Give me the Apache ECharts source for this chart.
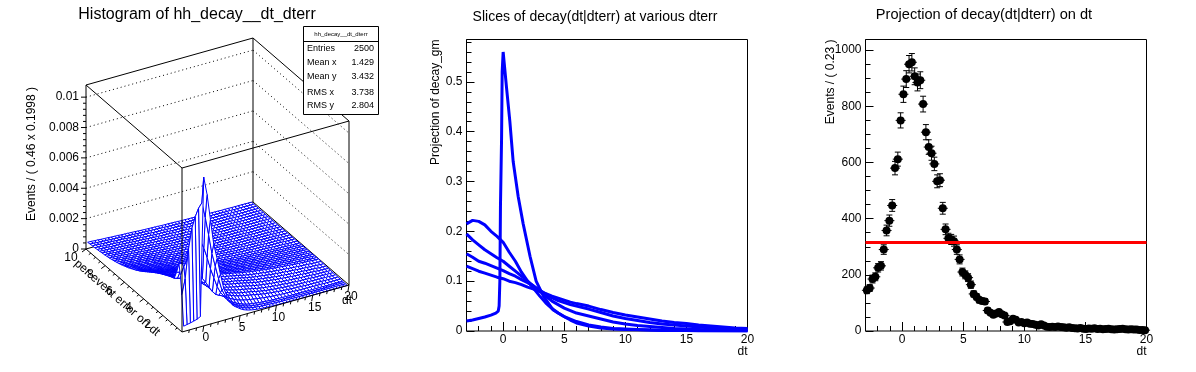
<!DOCTYPE html>
<html>
<head>
<meta charset="utf-8">
<title>decay</title>
<script src="https://cdn.jsdelivr.net/npm/echarts@6/dist/echarts.min.js"></script>
<style>
html, body { margin: 0; padding: 0; background: #fff; }
#chart { width: 1196px; height: 372px; }
</style>
</head>
<body>
<div id="chart"></div>
<script>
const FONT = '"Liberation Sans", Arial, sans-serif';

// ---- left pad: surface, z in units of 1e-5, one row per dterr value
const dtBins = [-2.77,-2.31,-1.85,-1.39,-0.93,-0.47,-0.01,0.45,0.91,1.37,1.83,2.29,2.75,3.21,3.67,4.13,4.59,5.05,5.51,5.97,6.43,6.89,7.35,7.81,8.27,8.73,9.19,9.65,10.11,10.57,11.03,11.49,11.95,12.41,12.87,13.33,13.79,14.25,14.71,15.17,15.63,16.09,16.55,17.01,17.47,17.93,18.39,18.85,19.31,19.77];
const errBins = [0.01,0.2,0.35,0.5,0.75,1,1.25,1.5,1.75,2,2.25,2.5,2.75,3,3.2,3.4,3.6,3.8,4,4.2,4.4,4.6,4.8,5,5.25,5.5,5.75,6,6.25,6.5,6.75,7,7.25,7.5,7.75,8,8.25,8.5,8.75,9,9.25,9.5,9.75,10];
const surfaceRows = [
[35,40,44,50,56,68,980,860,690,520,420,310,210,150,105,75,60,44,32,24,18,14,11,9,7,6,5,4,3,3,2,2,2,2,1,1,1,1,1,1,1,1,1,1,1,1,0,0,0,0],
[230,330,520,650,720,770,800,700,580,450,360,270,190,145,105,78,62,48,36,28,21,17,14,11,9,8,7,6,5,4,4,3,3,3,2,2,2,2,2,1,1,1,1,1,1,1,1,1,0,0],
[350,400,440,480,510,530,540,490,420,340,275,210,165,135,105,80,64,52,40,32,25,20,17,14,12,10,9,8,6,5,5,4,4,3,3,3,2,2,2,2,2,1,1,1,1,1,1,1,1,0],
[420,415,405,392,375,350,320,280,248,210,175,150,138,128,108,85,68,56,45,36,29,24,21,18,15,13,11,9,8,7,6,5,5,4,4,3,3,3,2,2,2,2,2,2,1,1,1,1,1,1],
[350,345,338,325,310,295,275,255,233,205,178,156,143,130,112,92,78,67,57,49,43,38,34,31,27,24,21,18,16,14,12,11,10,9,8,7,6,5,5,4,4,3,3,3,2,2,2,1,1,1],
[296,292,285,275,262,250,240,235,218,200,180,163,148,133,115,100,88,78,70,63,57,52,48,44,40,35,31,27,24,21,19,17,15,13,12,10,9,8,7,6,5,5,4,3,3,2,2,2,1,1],
[290,282,272,262,250,240,232,226,212,195,178,162,147,133,116,102,92,82,75,68,62,58,54,50,46,41,36,32,28,26,23,21,19,17,15,13,12,11,10,8,8,7,6,5,4,4,3,3,2,2],
[283,272,262,252,242,232,226,219,206,191,175,160,146,133,118,105,95,87,80,74,68,64,60,55,51,46,41,37,33,30,28,25,23,21,19,17,15,14,12,11,10,9,8,7,6,5,4,3,3,2],
[274,264,254,244,235,226,219,211,200,186,172,159,146,133,120,108,98,91,85,79,74,70,66,61,56,51,46,42,38,35,32,29,27,25,22,20,18,17,15,13,12,11,10,8,7,6,5,4,3,3],
[265,256,245,235,226,219,212,203,194,182,170,158,145,133,121,110,102,96,90,85,80,76,72,67,62,57,52,47,43,40,37,34,31,28,26,24,22,20,18,16,15,13,12,10,9,8,6,5,4,3],
[255,247,236,226,218,211,205,196,188,177,166,155,143,133,122,112,105,99,93,87,82,78,74,69,65,59,54,50,46,43,40,37,34,31,28,26,24,22,20,18,17,15,14,12,11,9,8,6,5,4],
[246,238,227,218,211,204,198,189,182,172,162,152,142,133,124,115,108,102,96,90,85,81,77,72,68,62,57,53,49,46,43,40,37,34,31,29,27,25,23,21,19,17,16,14,13,11,10,8,7,6],
[235,228,218,210,203,196,191,182,176,167,158,149,141,133,126,118,111,105,99,93,88,84,79,74,71,65,60,56,52,49,46,43,40,37,34,32,29,27,25,23,21,19,18,16,15,13,12,10,9,8],
[224,219,210,203,196,189,184,175,170,163,154,147,140,133,128,121,114,108,102,96,91,87,82,77,74,68,63,60,56,52,49,46,43,40,37,35,32,30,28,26,24,22,20,18,17,15,14,12,11,10],
[215,210,201,195,188,181,176,168,163,156,148,141,134,127,123,116,109,103,98,92,87,83,78,74,71,65,60,57,54,50,47,44,41,38,35,33,30,29,27,25,23,21,19,17,16,14,13,11,10,9],
[206,201,193,187,180,174,169,161,156,150,142,135,129,122,118,111,105,99,94,88,84,80,75,71,68,63,58,55,52,48,45,42,40,37,34,32,29,28,26,24,22,20,18,17,16,14,13,11,10,9],
[196,191,183,177,171,165,161,153,148,142,135,128,122,116,112,105,100,94,89,84,80,76,71,67,64,59,55,52,49,45,43,40,38,35,32,30,28,26,24,23,21,19,17,16,15,13,12,10,9,8],
[186,182,174,168,163,157,153,145,141,135,128,122,116,110,106,100,95,90,85,80,76,72,68,64,61,56,52,50,46,43,41,38,36,33,31,29,27,25,23,22,20,18,17,15,14,12,12,10,9,8],
[176,172,164,159,154,148,144,137,133,128,121,115,110,104,100,95,89,85,80,75,71,68,64,60,58,53,49,47,43,40,38,36,34,31,29,27,25,23,22,20,19,17,16,14,13,11,11,9,8,7],
[166,162,155,150,145,140,136,130,126,121,114,109,104,98,95,90,84,80,75,71,67,64,61,57,55,50,47,44,41,38,36,34,32,30,27,26,24,22,21,19,18,16,15,13,13,11,10,9,8,7],
[157,153,147,142,137,132,128,123,119,114,108,103,98,93,89,85,79,75,71,67,63,60,57,54,52,47,44,42,39,36,34,32,30,28,25,24,22,21,19,18,17,15,14,12,12,10,9,8,7,7],
[148,145,139,134,129,125,121,116,112,108,102,97,92,88,84,80,75,71,67,63,60,57,54,51,49,45,42,40,37,34,32,30,28,26,24,23,21,20,18,17,16,15,13,12,11,10,9,8,7,7],
[140,137,131,127,122,118,115,109,106,102,96,92,87,83,80,75,71,67,63,60,57,54,51,48,46,42,39,37,35,32,30,28,26,25,23,22,20,19,17,16,15,14,12,11,10,9,8,7,6,6],
[132,129,124,120,116,112,109,103,100,96,91,87,83,78,76,71,67,64,60,57,54,51,48,45,44,40,37,35,33,31,29,27,25,24,22,21,19,18,17,15,14,13,12,11,10,9,8,7,6,6],
[123,120,115,112,108,104,101,96,93,89,85,81,77,73,70,66,62,59,56,53,50,47,45,42,41,37,34,33,31,29,27,25,23,22,20,19,17,16,15,14,13,12,11,10,9,8,7,6,6,5],
[114,112,107,104,100,96,94,89,87,83,79,75,71,68,65,62,58,55,52,49,46,44,42,39,38,35,32,31,29,27,25,23,22,20,19,18,16,15,14,13,12,11,10,9,9,8,7,6,6,5],
[106,104,99,96,93,89,87,83,81,77,73,70,66,63,60,57,54,51,48,45,43,41,39,36,35,32,30,28,27,25,23,21,20,19,17,16,15,14,13,12,11,10,9,8,8,7,6,5,5,4],
[99,96,92,89,86,83,81,77,75,72,68,65,62,59,56,53,50,48,45,42,40,38,36,34,33,30,28,26,25,23,22,20,19,18,16,15,14,13,12,11,11,10,9,8,7,7,6,5,5,4],
[92,89,86,83,80,77,75,72,70,67,63,60,57,55,52,49,46,44,42,39,37,35,33,31,30,28,26,24,23,21,20,18,17,16,15,14,13,12,11,10,10,9,8,7,6,6,5,5,4,4],
[85,83,80,77,74,72,70,67,65,62,59,56,53,51,49,46,43,41,39,36,35,33,31,29,28,26,24,23,21,20,19,17,16,15,14,13,12,11,11,10,9,8,8,7,6,6,5,5,4,4],
[79,77,74,72,69,67,65,62,60,58,55,52,49,47,45,43,40,38,36,34,32,31,29,27,26,24,22,21,19,18,17,16,15,14,13,12,11,10,10,9,8,7,7,6,6,5,5,4,4,3],
[74,72,69,67,65,62,61,58,56,54,51,49,46,44,42,40,38,36,34,32,30,29,27,25,24,22,21,20,18,17,16,15,14,13,12,12,11,10,9,9,8,7,7,6,6,5,5,4,4,3],
[69,68,65,63,61,58,57,54,52,50,48,46,43,41,39,37,35,33,32,30,28,27,25,23,22,21,19,18,17,16,15,14,13,12,11,11,10,9,8,8,7,6,6,5,5,4,4,3,3,3],
[65,64,61,59,57,55,53,51,49,47,45,43,41,39,37,35,33,31,30,28,26,25,24,22,21,20,18,17,16,15,14,13,12,12,11,10,9,9,8,8,7,6,6,5,5,4,4,3,3,3],
[61,60,58,56,54,52,50,48,46,44,42,40,38,37,35,33,31,29,28,26,25,24,22,21,20,19,17,16,15,14,13,12,11,11,10,9,8,8,7,7,6,6,5,5,4,4,4,3,3,3],
[58,57,55,53,51,49,48,46,44,42,40,38,36,35,33,31,30,28,27,25,24,23,21,20,19,18,16,16,15,14,13,12,11,10,10,9,8,8,7,7,6,6,5,5,4,4,4,3,3,3],
[55,54,52,50,48,46,45,43,42,40,38,36,34,33,31,29,28,26,25,24,22,21,20,19,18,17,15,15,14,13,12,11,10,9,9,8,8,7,7,6,6,5,5,4,4,4,3,3,3,2],
[53,51,49,48,46,44,43,41,40,38,36,35,33,31,30,28,27,25,24,23,21,20,19,18,17,16,15,14,13,12,12,11,10,9,9,8,8,7,7,6,6,5,5,4,4,4,3,3,3,2],
[50,49,47,46,44,42,41,39,38,36,34,33,31,30,29,27,26,24,23,22,20,19,18,17,16,15,14,13,12,11,11,10,9,9,8,8,7,6,6,6,5,5,4,4,4,3,3,3,2,2],
[48,47,45,44,42,41,40,38,37,35,33,32,30,29,28,26,25,23,22,21,20,19,18,17,16,15,14,13,12,11,11,10,9,9,8,8,7,6,6,6,5,5,4,4,4,3,3,3,2,2],
[46,45,43,42,40,39,38,36,35,34,32,30,29,28,27,25,24,22,21,20,19,18,17,16,15,14,13,12,11,10,10,9,9,8,7,7,6,6,6,5,5,4,4,4,3,3,3,2,2,2],
[45,44,42,41,39,38,37,35,34,33,31,29,28,27,26,24,23,22,20,19,18,17,16,15,15,14,13,12,11,10,10,9,9,8,7,7,6,6,6,5,5,4,4,4,3,3,3,2,2,2],
[43,42,40,39,37,36,35,33,32,31,29,28,27,26,25,23,22,21,20,19,18,17,16,15,14,13,12,11,10,10,9,9,8,8,7,7,6,6,5,5,4,4,4,3,3,3,3,2,2,2],
[41,41,39,38,36,35,34,32,31,30,28,27,26,25,24,22,21,20,19,18,17,16,15,14,14,13,12,11,10,10,9,9,8,7,7,6,6,6,5,5,4,4,4,3,3,3,3,2,2,2]
];
const zTicks = [0, 0.002, 0.004, 0.006, 0.008, 0.01];
const zTickLabels = ['0', '0.002', '0.004', '0.006', '0.008', '0.01'];
const dtTicks = [0, 5, 10, 15, 20];
const dtMinorTicks = [-2,-1,0,1,2,3,4,5,6,7,8,9,10,11,12,13,14,15,16,17,18,19,20];
const errTicks = [2, 4, 6, 8, 10];
const statNames = ['Entries', 'Mean x', 'Mean y', 'RMS x', 'RMS y'];
const statValues = ['2500', '1.429', '3.432', '3.738', '2.804'];

// ---- middle pad: slices
const sharpDt = [-3,-2.5,-2,-1.5,-1,-0.6,-0.4,-0.33,-0.27,-0.22,-0.13,-0.08,0,0.14,0.27,0.55,0.82,1.23,1.64,2.2,2.7,3.3,4.1,4.9,5.5,6,7,8,9,10,12,14,16,20];
const sharpVal = [0.02,0.022,0.025,0.028,0.032,0.036,0.04,0.05,0.1,0.25,0.386,0.52,0.56,0.557,0.49,0.42,0.34,0.27,0.215,0.15,0.1,0.07,0.042,0.03,0.022,0.016,0.01,0.006,0.004,0.003,0.002,0.001,0.001,0];
const sliceDt = [-3,-2.5,-2,-1.5,-1,-0.5,0,0.5,1,1.5,2,2.5,3,3.5,4,4.5,5,5.5,6,7,8,9,10,11,12,13,14,15,16,17,18,19,20];
const sliceB = [0.215,0.222,0.22,0.213,0.2,0.19,0.178,0.158,0.14,0.118,0.1,0.085,0.07,0.056,0.045,0.036,0.029,0.024,0.019,0.012,0.008,0.005,0.004,0.003,0.002,0.001,0.001,0.001,0,0,0,0,0];
const sliceC = [0.195,0.183,0.173,0.163,0.155,0.147,0.14,0.13,0.12,0.11,0.1,0.09,0.08,0.07,0.06,0.053,0.046,0.041,0.036,0.03,0.024,0.018,0.014,0.011,0.009,0.007,0.005,0.004,0.003,0.002,0.002,0.001,0.001];
const sliceD = [0.155,0.148,0.14,0.136,0.131,0.126,0.121,0.115,0.11,0.103,0.097,0.09,0.082,0.074,0.067,0.061,0.057,0.053,0.05,0.044,0.037,0.03,0.025,0.021,0.017,0.014,0.012,0.01,0.008,0.006,0.005,0.004,0.003];
const sliceE = [0.13,0.125,0.12,0.116,0.112,0.108,0.105,0.1,0.097,0.093,0.088,0.084,0.079,0.075,0.07,0.066,0.062,0.058,0.055,0.05,0.043,0.037,0.032,0.028,0.024,0.02,0.017,0.015,0.012,0.01,0.008,0.006,0.005];

// ---- right pad: projection
const projDt = [-2.885,-2.655,-2.425,-2.195,-1.965,-1.735,-1.505,-1.275,-1.045,-0.815,-0.585,-0.355,-0.125,0.105,0.335,0.565,0.795,1.025,1.255,1.485,1.715,1.945,2.175,2.405,2.635,2.865,3.095,3.325,3.555,3.785,4.015,4.245,4.475,4.705,4.935,5.165,5.395,5.625,5.855,6.085,6.315,6.545,6.775,7.005,7.235,7.465,7.695,7.925,8.155,8.385,8.615,8.845,9.075,9.305,9.535,9.765,9.995,10.225,10.455,10.685,10.915,11.145,11.375,11.605,11.835,12.065,12.295,12.525,12.755,12.985,13.215,13.445,13.675,13.905,14.135,14.365,14.595,14.825,15.055,15.285,15.515,15.745,15.975,16.205,16.435,16.665,16.895,17.125,17.355,17.585,17.815,18.045,18.275,18.505,18.735,18.965,19.195,19.425,19.655,19.885];
const projEvents = [145,153,185,193,225,232,290,358,393,447,580,612,750,843,897,950,957,907,885,893,808,708,655,633,595,533,537,437,362,330,326,320,290,255,210,200,190,165,132,122,110,107,105,73,65,58,62,68,60,55,32,35,44,40,30,32,28,30,26,25,22,20,24,20,15,14,15,14,16,14,13,12,13,11,10,9,11,8,7,9,8,10,7,8,6,7,8,6,5,6,7,8,6,5,6,5,5,4,4,3];
const projErr = [12,12,14,14,15,15,17,19,20,21,24,25,27,29,30,31,31,30,30,30,28,27,26,25,24,23,23,21,19,18,18,18,17,16,14,14,14,13,11,11,10,10,10,9,8,8,8,8,8,7,6,6,7,6,5,6,5,5,5,5,5,4,5,4,4,4,4,4,4,4,4,3,4,3,3,3,3,3,3,3,3,3,3,3,2,3,3,2,2,2,3,3,2,2,2,2,2,2,2,2];
const fitDt = [-3, 20];
const fitVal = [315, 315];

// fixed view of the 3D box, in page pixels of the left grid
function project(t, e, z) {
    const u = (t + 3) / 23, v = (e - 0.01) / 9.99, w = z / 0.0108;
    return [182 + u * 167 - v * 96, 332 - u * 47 - v * 83 - w * 164];
}

function lineEl(api, a, b, style) {
    const p = api.coord(a), q = api.coord(b);
    return {type: 'line', shape: {x1: p[0], y1: p[1], x2: q[0], y2: q[1]}, style: Object.assign({stroke: '#000', lineWidth: 1}, style)};
}
function textEl(api, at, text, opt) {
    const p = api.coord(at);
    return {
        type: 'text', x: p[0], y: p[1], rotation: opt.rotation || 0,
        style: {text: text, fontFamily: FONT, fontSize: opt.size || 12, fill: '#000', align: opt.align || 'center', verticalAlign: 'middle'}
    };
}

function renderBack(params, api) {
    const els = [];
    const dots = {lineDash: [1, 3]};
    zTicks.slice(1).forEach(z => {
        els.push(lineEl(api, project(-3, 10, z), project(20, 10, z), dots));
        els.push(lineEl(api, project(20, 10, z), project(20, 0.01, z), dots));
    });
    els.push(lineEl(api, project(-3, 10, 0), project(20, 10, 0)));
    els.push(lineEl(api, project(20, 10, 0), project(20, 0.01, 0)));
    els.push(lineEl(api, project(20, 10, 0), project(20, 10, 0.0108)));
    els.push(lineEl(api, project(-3, 10, 0.0108), project(20, 10, 0.0108)));
    els.push(lineEl(api, project(20, 10, 0.0108), project(20, 0.01, 0.0108)));
    return {type: 'group', children: els};
}

function renderCell(params, api) {
    const i = api.value(0), j = api.value(1);
    const pts = [[i, j], [i + 1, j], [i + 1, j + 1], [i, j + 1]].map(c =>
        api.coord(project(dtBins[c[0]], errBins[c[1]], surfaceRows[c[1]][c[0]] * 1e-5)));
    return {type: 'polygon', shape: {points: pts}, style: {fill: '#fff', stroke: '#0000ff', lineWidth: 1}};
}

function renderFront(params, api) {
    const els = [];
    const A = 0.0108;
    els.push(lineEl(api, project(-3, 0.01, 0), project(20, 0.01, 0)));
    els.push(lineEl(api, project(-3, 0.01, 0), project(-3, 10, 0)));
    els.push(lineEl(api, project(-3, 0.01, 0), project(-3, 0.01, A)));
    els.push(lineEl(api, project(20, 0.01, 0), project(20, 0.01, A)));
    els.push(lineEl(api, project(-3, 10, 0), project(-3, 10, A)));
    els.push(lineEl(api, project(-3, 0.01, A), project(20, 0.01, A)));
    els.push(lineEl(api, project(-3, 0.01, A), project(-3, 10, A)));
    // z axis
    for (let k = 0; k < 26; k++) {
        const z = k * 0.0004, p = project(-3, 10, z), len = k % 5 === 0 ? 5 : 3;
        els.push(lineEl(api, p, [p[0] - len, p[1]]));
    }
    zTicks.forEach((z, k) => {
        const p = project(-3, 10, z);
        els.push(textEl(api, [p[0] - 7, p[1]], zTickLabels[k], {align: 'right'}));
    });
    els.push(textEl(api, [32, 154], 'Events / ( 0.46 x 0.1998 )', {rotation: Math.PI / 2}));
    // dt axis
    dtMinorTicks.forEach(t => {
        const p = project(t, 0.01, 0), major = dtTicks.indexOf(t) >= 0;
        els.push(lineEl(api, p, [p[0] - (major ? 1 : 0.5), p[1] + (major ? 6 : 3)]));
    });
    dtTicks.forEach(t => {
        const p = project(t, 0.01, 0);
        els.push(textEl(api, [p[0] + 2, p[1] + 12], String(t), {}));
    });
    els.push(textEl(api, [347, 301], 'dt', {}));
    // dterr axis
    for (let e = 0.5; e <= 10; e += 0.5) {
        const p = project(-3, e, 0), major = e % 2 === 0;
        els.push(lineEl(api, p, [p[0] - (major ? 4 : 2), p[1] + (major ? 3 : 1.5)]));
    }
    errTicks.forEach(e => {
        const p = project(-3, e, 0);
        els.push(textEl(api, [p[0] - 15, p[1] + 9], String(e), {}));
    });
    els.push(textEl(api, [117, 298], 'per-event error on dt', {rotation: -0.72}));
    return {type: 'group', children: els};
}

function renderErrorBar(params, api) {
    const t = api.value(0), n = api.value(1), err = api.value(2);
    const c = api.coord([t, n]), lo = api.coord([t, n - err]), hi = api.coord([t, n + err]);
    const line = (x1, y1, x2, y2) => ({type: 'line', shape: {x1: x1, y1: y1, x2: x2, y2: y2}, style: {stroke: '#000', lineWidth: 1}});
    return {type: 'group', children: [
        line(c[0], lo[1], c[0], hi[1]),
        line(c[0] - 3, lo[1], c[0] + 3, lo[1]),
        line(c[0] - 3, hi[1], c[0] + 3, hi[1]),
        line(c[0] - 5, c[1], c[0] + 5, c[1])
    ]};
}

const cellData = [];
for (let j = errBins.length - 2; j >= 0; j--) {
    for (let i = dtBins.length - 2; i >= 0; i--) {
        cellData.push([i, j]);
    }
}
const zip = (xs, ys) => xs.map((x, i) => [x, ys[i]]);
const blueLine = (xs, ys) => ({
    type: 'line', xAxisIndex: 1, yAxisIndex: 1, data: zip(xs, ys), showSymbol: false,
    lineStyle: {color: '#0000ff', width: 3}, itemStyle: {color: '#0000ff'}, silent: true
});

function frameAxisX(grid, values, len, withLabel, name) {
    return {
        type: 'value', gridIndex: grid, position: 'bottom', min: -3, max: 20, name: name,
        nameLocation: 'end', nameGap: 0, nameMoveOverlap: false,
        nameTextStyle: {fontFamily: FONT, fontSize: 12, color: '#000', align: 'right', verticalAlign: 'top', padding: [15, 0, 0, 0]},
        axisLine: {show: false, onZero: false}, splitLine: {show: false},
        axisTick: {show: true, inside: true, length: len, customValues: values, lineStyle: {color: '#000'}},
        axisLabel: {show: withLabel, customValues: values, margin: 3, color: '#000', fontFamily: FONT, fontSize: 12, hideOverlap: false, showMinLabel: true, showMaxLabel: true}
    };
}
function frameAxisY(grid, max, interval, minor, name, gap) {
    return {
        type: 'value', gridIndex: grid, position: 'left', min: 0, max: max, interval: interval, name: name,
        nameLocation: 'end', nameGap: 0, nameRotate: 90, nameMoveOverlap: false,
        nameTextStyle: {fontFamily: FONT, fontSize: 12, color: '#000', align: 'right', verticalAlign: 'bottom', padding: [0, 0, gap, 0]},
        axisLine: {show: false, onZero: false}, splitLine: {show: false},
        axisTick: {show: true, inside: true, length: 8, lineStyle: {color: '#000'}},
        minorTick: {show: true, splitNumber: minor, length: 5, lineStyle: {color: '#000'}},
        axisLabel: {margin: 4, color: '#000', fontFamily: FONT, fontSize: 12, showMaxLabel: false,
            formatter: v => (v > 0 && v < 1 ? v.toFixed(1) : String(v))}
    };
}

const option = {
    animation: false,
    backgroundColor: '#fff',
    title: [
        {text: 'Histogram of hh_decay__dt_dterr', left: 192, top: 2, textAlign: 'center', textStyle: {fontFamily: FONT, fontSize: 16, fontWeight: 'normal', color: '#000'}},
        {text: 'Slices of decay(dt|dterr) at various dterr', left: 590, top: 5, textAlign: 'center', textStyle: {fontFamily: FONT, fontSize: 14, fontWeight: 'normal', color: '#000'}},
        {text: 'Projection of decay(dt|dterr) on dt', left: 979, top: 2, textAlign: 'center', textStyle: {fontFamily: FONT, fontSize: 14.6, fontWeight: 'normal', color: '#000'}}
    ],
    grid: [
        {left: 0, top: 0, width: 400, height: 372, show: false},
        {left: 466.5, top: 39.5, width: 281, height: 291.5, show: true, borderColor: '#000', borderWidth: 1, backgroundColor: '#fff'},
        {left: 865.5, top: 39.5, width: 281, height: 291.5, show: true, borderColor: '#000', borderWidth: 1, backgroundColor: '#fff'}
    ],
    xAxis: [
        {type: 'value', gridIndex: 0, min: 0, max: 400, show: false},
        frameAxisX(1, dtTicks, 9, true, 'dt'),
        frameAxisX(1, dtMinorTicks, 5, false, ''),
        frameAxisX(2, dtTicks, 9, true, 'dt'),
        frameAxisX(2, dtMinorTicks, 5, false, '')
    ],
    yAxis: [
        {type: 'value', gridIndex: 0, min: 0, max: 372, inverse: true, show: false},
        frameAxisY(1, 0.585, 0.1, 5, 'Projection of decay_gm', 25),
        frameAxisY(2, 1038, 200, 4, 'Events / ( 0.23 )', 29)
    ],
    series: [
        {type: 'custom', xAxisIndex: 0, yAxisIndex: 0, data: [[0, 0]], renderItem: renderBack, clip: false, silent: true},
        {type: 'custom', xAxisIndex: 0, yAxisIndex: 0, data: cellData, renderItem: renderCell, clip: false, silent: true},
        {type: 'custom', xAxisIndex: 0, yAxisIndex: 0, data: [[0, 0]], renderItem: renderFront, clip: false, silent: true},
        blueLine(sharpDt, sharpVal),
        blueLine(sliceDt, sliceB),
        blueLine(sliceDt, sliceC),
        blueLine(sliceDt, sliceD),
        blueLine(sliceDt, sliceE),
        {type: 'custom', xAxisIndex: 3, yAxisIndex: 2, renderItem: renderErrorBar, silent: true,
            data: projDt.map((t, i) => [t, projEvents[i], projErr[i]]), encode: {x: 0, y: 1}},
        {type: 'scatter', xAxisIndex: 3, yAxisIndex: 2, data: zip(projDt, projEvents), symbolSize: 8, itemStyle: {color: '#000', opacity: 1}, silent: true},
        {type: 'line', xAxisIndex: 3, yAxisIndex: 2, data: zip(fitDt, fitVal), showSymbol: false, lineStyle: {color: '#ff0000', width: 3}, silent: true}
    ],
    graphic: {elements: [
        {type: 'rect', z: 20, shape: {x: 303.5, y: 26.5, width: 75, height: 88}, style: {fill: '#fff', stroke: '#000', lineWidth: 1}},
        {type: 'line', z: 20, shape: {x1: 303.5, y1: 41.5, x2: 378.5, y2: 41.5}, style: {stroke: '#000', lineWidth: 1}},
        {type: 'text', z: 21, x: 341, y: 34, style: {text: 'hh_decay__dt_dterr', fontFamily: FONT, fontSize: 6, fill: '#000', align: 'center', verticalAlign: 'middle'}}
    ].concat(statNames.map((s, i) => ({
        type: 'text', z: 21, x: 307, y: [48.5, 63, 77, 92.5, 106][i], style: {text: s, fontFamily: FONT, fontSize: 9, fill: '#000', align: 'left', verticalAlign: 'middle'}
    }))).concat(statValues.map((s, i) => ({
        type: 'text', z: 21, x: 374, y: [48.5, 63, 77, 92.5, 106][i], style: {text: s, fontFamily: FONT, fontSize: 9, fill: '#000', align: 'right', verticalAlign: 'middle'}
    })))}
};

echarts.init(document.getElementById('chart')).setOption(option);
</script>
</body>
</html>
